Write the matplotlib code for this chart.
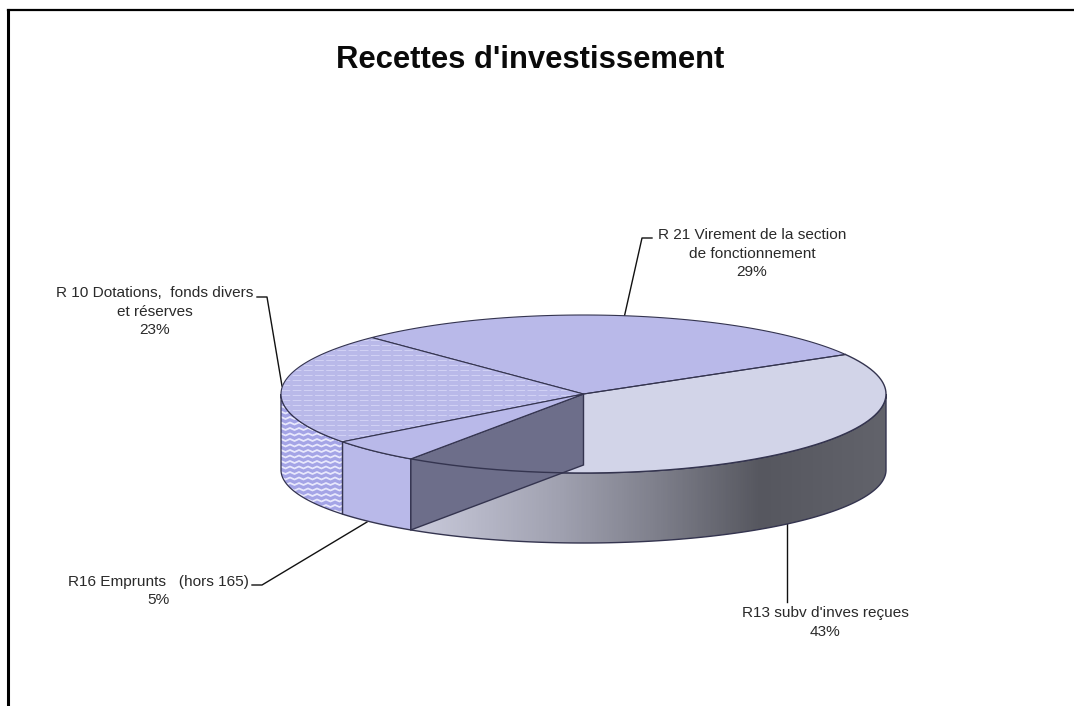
import numpy as np
import matplotlib
matplotlib.use("Agg")
import matplotlib.pyplot as plt
from matplotlib.patches import Polygon
from matplotlib.colors import LinearSegmentedColormap

plt.rcParams['font.family'] = ['Liberation Sans', 'DejaVu Sans']

# Slices in drawing order, counter-clockwise from the start angle
labels = [["R 21 Virement de la section", "de fonctionnement"],
          ["R 10 Dotations,  fonds divers", "et réserves"],
          ["R16 Emprunts   (hors 165)"],
          ["R13 subv d'inves reçues"]]
shares = [29, 23, 5, 43]
title = "Recettes d'investissement"

START_DEG = 30
CX, CY, RX, RY = 583.5, 394.0, 302.5, 79.0      # top face of the disc
BCY, BRY = 470.0, 73.0                          # bottom rim, slightly flatter

EDGE = '#34344f'
BLUE = '#b9b9e9'
PALE = '#d2d4e8'
DARK = '#6d6e8a'

label_xy = [(752, 235), (155, 293), (158, 582), (825, 613)]
leaders = [[(624, 318), (642, 238), (652, 238)],
           [(282, 386), (267, 297), (257, 297)],
           [(367, 522), (262, 585), (252, 585)],
           [(787, 523), (787, 602)]]

fig = plt.figure(figsize=(10.74, 7.06), dpi=100)
ax = fig.add_axes([0, 0, 1, 1])


def top(deg):
    t = np.radians(deg)
    return np.column_stack([CX + RX * np.cos(t), CY - RY * np.sin(t)])


def bottom(deg):
    t = np.radians(deg)
    return np.column_stack([CX + RX * np.cos(t), BCY - BRY * np.sin(t)])


def arc(a, b):
    return np.linspace(a, b, max(int(abs(b - a) * 2), 2))


def sector(a, b):
    return np.vstack([[CX, CY], top(arc(a, b)), [CX, CY]])


def wall(a, b):
    return np.vstack([top(arc(a, b)), bottom(arc(b, a))])


def dashed_fill(patch, y0, y1, step, zorder):
    """Pale dashed rules across a face, clipped to it."""
    x0, x1 = patch.get_xy()[:, 0].min(), patch.get_xy()[:, 0].max()
    for y in np.arange(y0, y1, step):
        ln, = ax.plot([x0, x1], [y, y], color='#d2d2f5', lw=0.7, zorder=zorder,
                      dashes=(9, 2.5), dash_joinstyle='miter')
        ln.set_clip_path(patch)


def zigzag_fill(patch, y0, y1, step, period, zorder):
    """Rows of pale zigzags across a face, clipped to it."""
    xy = patch.get_xy()
    xs = np.arange(xy[:, 0].min() - period, xy[:, 0].max() + period, period / 2)
    tooth = np.where(np.arange(xs.size) % 2 == 0, 0.0, 2.0)
    for y in np.arange(y0, y1, step):
        ln, = ax.plot(xs, y + tooth, color='#e8e8fc', lw=1.3, zorder=zorder)
        ln.set_clip_path(patch)


edges = START_DEG + np.cumsum([0] + shares) * 3.6
a21, a10, a16, a13, a_end = edges

# Outer wall of the largest slice with its metallic shading
ramp = LinearSegmentedColormap.from_list('ramp', [
    (0.00, '#cbccdd'), (0.32, '#a0a1b0'), (0.52, '#7f808c'),
    (0.74, '#56575f'), (1.00, '#62636b')])
img = ax.imshow(np.linspace(0, 1, 480).reshape(1, -1), cmap=ramp, aspect='auto',
                extent=(406, 886, 560, 380), zorder=1)
side13 = Polygon(wall(a13, 360), closed=True, transform=ax.transData,
                 facecolor='none', edgecolor='none')
ax.add_patch(side13)
img.set_clip_path(side13)
ax.add_patch(Polygon(wall(a13, 360), closed=True, fill=False, edgecolor=EDGE, lw=1, zorder=2))

# Top of the largest slice
ax.add_patch(Polygon(sector(a13, a_end), closed=True, facecolor=PALE, edgecolor='none', zorder=3))

# Walls of the two slices at the front left
side10 = Polygon(wall(180, a16), closed=True, facecolor='#a4a4e6', edgecolor='none', zorder=3)
ax.add_patch(side10)
zigzag_fill(side10, 395, 520, 5.5, 9, 3.5)
ax.add_patch(Polygon(wall(180, a16), closed=True, fill=False, edgecolor=EDGE, lw=0.9, zorder=4))
ax.add_patch(Polygon(wall(a16, a13), closed=True, facecolor=BLUE, edgecolor=EDGE, lw=1, zorder=4))

# Dark cut face running back to the centre
corner_top = top(np.array([a13]))[0]
corner_bot = bottom(np.array([a13]))[0]
ax.add_patch(Polygon([(CX, CY), corner_top, corner_bot, (CX, CY + 71)], closed=True,
                     facecolor=DARK, edgecolor=EDGE, lw=1, zorder=5))

# Top faces
ax.add_patch(Polygon(sector(a21, a10), closed=True, facecolor=BLUE, edgecolor=EDGE, lw=0.8, zorder=6))
face10 = Polygon(sector(a10, a16), closed=True, facecolor=BLUE, edgecolor='none', zorder=6)
ax.add_patch(face10)
dashed_fill(face10, 335, 445, 5, 6.5)
ax.add_patch(Polygon(sector(a10, a16), closed=True, fill=False, edgecolor=EDGE, lw=0.8, zorder=7))
ax.add_patch(Polygon(sector(a16, a13), closed=True, facecolor=BLUE, edgecolor=EDGE, lw=0.8, zorder=7))

# Rim of the top face, which stays visible across the cut face
rim = top(arc(a13, a_end))
ax.plot(rim[:, 0], rim[:, 1], color=EDGE, lw=1, zorder=8)
start_line = np.vstack([[CX, CY], top(np.array([START_DEG]))])
ax.plot(start_line[:, 0], start_line[:, 1], color=EDGE, lw=0.8, zorder=8)

# Labels and their leader lines
for lines, share, (x, y), lead in zip(labels, shares, label_xy, leaders):
    for i, line in enumerate(lines + [f"{share}%"]):
        ax.text(x, y + i * 18.5, line, ha='center', va='center', fontsize=11.1, color='#2a2a2a')
    pts = np.array(lead)
    ax.plot(pts[:, 0], pts[:, 1], color='#111111', lw=1, zorder=0.5)

ax.text(530.5, 60, title, ha='center', va='center', fontsize=22.3, fontweight='bold', color='#0a0a0a')

# Page frame: only the top and left rules fall inside the page
ax.plot([8, 8], [706, 10], color='black', lw=2.2, solid_capstyle='projecting', zorder=9)
ax.plot([8, 1074], [10, 10], color='black', lw=1.6, solid_capstyle='projecting', zorder=9)

ax.set_xlim(0, 1074)
ax.set_ylim(706, 0)
ax.axis('off')
fig.savefig('out.png', dpi=100, facecolor='white')
